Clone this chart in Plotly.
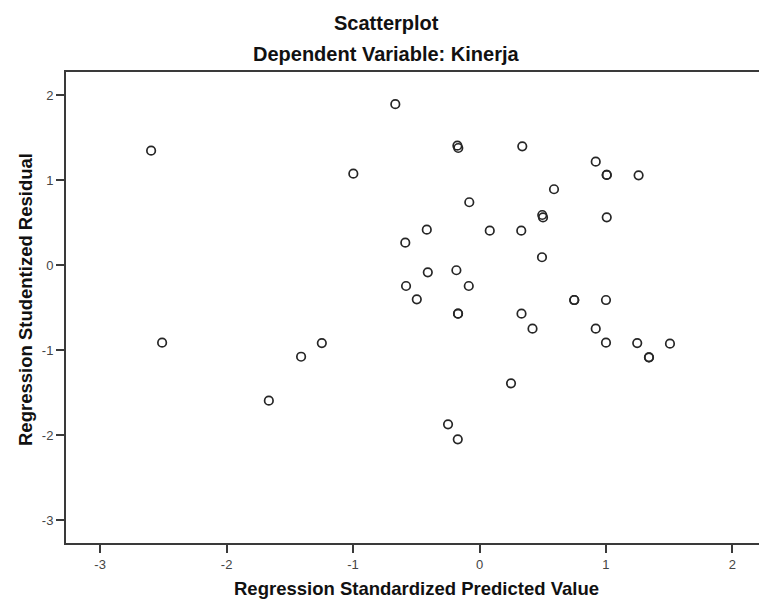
import plotly.graph_objects as go

# Regression Standardized Predicted Value
pred = [-2.597, -2.510, -1.411, -1.247, -1.666, -0.998, -0.666, -0.587, -0.417, -0.409,
        -0.581, -0.496, -0.183, -0.085, -0.175, -0.168, -0.081, 0.081, 0.338, 0.330,
        0.589, 0.496, 0.502, 0.494, 0.332, 0.419, -0.170, -0.170, 0.249, -0.249,
        -0.172, 0.919, 1.006, 1.006, 1.258, 1.006, 0.749, 0.749, 1.000, 0.919,
        1.000, 1.247, 1.506, 1.340, 1.340]
# Regression Studentized Residual
resid = [1.345, -0.914, -1.079, -0.918, -1.596, 1.074, 1.891, 0.262, 0.415, -0.086,
         -0.247, -0.404, -0.062, -0.247, 1.404, 1.376, 0.738, 0.404, 1.396, 0.404,
         0.891, 0.588, 0.559, 0.091, -0.573, -0.749, -0.573, -0.573, -1.392, -1.874,
         -2.051, 1.215, 1.059, 1.059, 1.055, 0.561, -0.412, -0.412, -0.412, -0.749,
         -0.914, -0.918, -0.926, -1.086, -1.086]

x_ticks = [-3, -2, -1, 0, 1, 2]
y_ticks = [-3, -2, -1, 0, 1, 2]

FONT = "Arial, Liberation Sans, sans-serif"
W, H = 759, 605
L, R, T, B = 66, 0, 72, 62
PW, PH = W - L - R, H - T - B

def px_x(px):
    return (px - L) / PW

def px_y(py):
    return (H - B - py) / PH

fig = go.Figure()
fig.add_trace(go.Scatter(
    x=pred, y=resid, mode="markers",
    marker=dict(symbol="circle-open", size=8.5, color="#262626",
                line=dict(width=1.7, color="#262626")),
    hoverinfo="skip", showlegend=False,
))

fig.update_layout(
    width=W, height=H,
    margin=dict(l=L, r=R, t=T, b=B, autoexpand=False),
    paper_bgcolor="white", plot_bgcolor="white",
    font=dict(family=FONT, color="#222"),
)

title_font = dict(size=20, family=FONT, color="#111")
axis_title_font = dict(size=18.5, family=FONT, color="#111")
fig.add_annotation(text="<b>Scatterplot</b>", xref="paper", yref="paper",
                   x=px_x(386), y=px_y(23), showarrow=False, font=title_font,
                   xanchor="center", yanchor="middle")
fig.add_annotation(text="<b>Dependent Variable: Kinerja</b>", xref="paper", yref="paper",
                   x=px_x(386), y=px_y(54), showarrow=False, font=title_font,
                   xanchor="center", yanchor="middle")
fig.add_annotation(text="<b>Regression Standardized Predicted Value</b>", xref="paper", yref="paper",
                   x=px_x(416), y=px_y(588), showarrow=False, font=axis_title_font,
                   xanchor="center", yanchor="middle")
fig.add_annotation(text="<b>Regression Studentized Residual</b>", xref="paper", yref="paper",
                   x=px_x(25), y=px_y(300), showarrow=False, textangle=-90,
                   font=axis_title_font, xanchor="center", yanchor="middle")

fig.update_xaxes(
    range=[-3.27, 2.21], tickvals=x_ticks, ticktext=[str(v) for v in x_ticks],
    showgrid=False, zeroline=False, showline=True, linecolor="#3a3a3a", linewidth=2,
    mirror=True, ticks="outside", ticklen=8, tickwidth=1.5, tickcolor="#3a3a3a",
    tickfont=dict(size=13, color="#444", family=FONT), automargin=False,
)
fig.update_yaxes(
    range=[-3.27, 2.27], tickvals=y_ticks, ticktext=[str(v) for v in y_ticks],
    showgrid=False, zeroline=False, showline=True, linecolor="#3a3a3a", linewidth=2,
    ticks="outside", ticklen=8, tickwidth=1.5, tickcolor="#3a3a3a",
    tickfont=dict(size=13, color="#444", family=FONT), automargin=False,
)

fig.write_html("out.html", config={"displayModeBar": False},
               post_script="document.body.style.margin='0';")
